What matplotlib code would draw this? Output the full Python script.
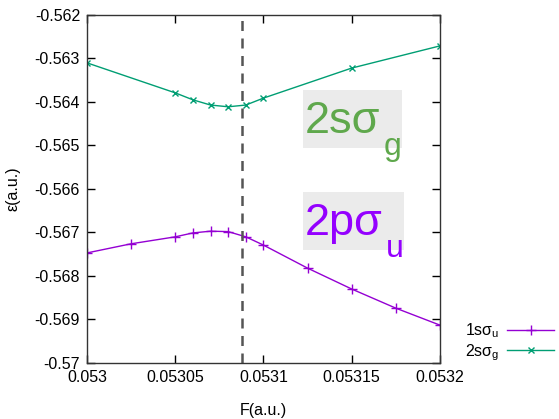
import matplotlib
matplotlib.use('Agg')
import matplotlib.pyplot as plt
from matplotlib.patches import Rectangle

# ── Data ──
F_2sg = [0.053, 0.05305, 0.05306, 0.05307, 0.05308, 0.05309, 0.0531, 0.05315, 0.0532]
E_2sg = [-0.56310, -0.56379, -0.56395, -0.56407, -0.56411, -0.56407, -0.56391, -0.56322, -0.56271]

F_1su = [0.053, 0.053025, 0.05305, 0.05306, 0.05307, 0.05308, 0.05309, 0.0531,
         0.053125, 0.05315, 0.053175, 0.0532]
E_1su = [-0.56747, -0.56726, -0.56710, -0.56701, -0.56697, -0.56698, -0.56710, -0.56729,
         -0.56782, -0.56830, -0.56874, -0.56913]

F_cross = 0.053088
xticks = [0.053, 0.05305, 0.0531, 0.05315, 0.0532]
xticklabels = ["0.053", "0.05305", "0.0531", "0.05315", "0.0532"]
yticks = [-0.570, -0.569, -0.568, -0.567, -0.566, -0.565, -0.564, -0.563, -0.562]
yticklabels = ["-0.57", "-0.569", "-0.568", "-0.567", "-0.566", "-0.565", "-0.564", "-0.563", "-0.562"]

plt.rcParams['font.family'] = ['Liberation Sans', 'DejaVu Sans']
plt.rcParams['mathtext.fontset'] = 'custom'
plt.rcParams['mathtext.rm'] = 'Liberation Sans'
plt.rcParams['mathtext.it'] = 'Liberation Sans'

fig = plt.figure(figsize=(5.59, 4.19), dpi=100)
ax = fig.add_axes([0.1556, 0.1337, 0.6315, 0.8305])

ax.plot(F_1su, E_1su, color='#9400d3', lw=1.0, marker='+', ms=7, mew=1.0,
        label='1sσ$_\\mathrm{u}$')
ax.plot(F_2sg, E_2sg, color='#009e73', lw=1.0, marker='x', ms=4.5, mew=1.0,
        label='2sσ$_\\mathrm{g}$')
ax.axvline(F_cross, color='#555555', lw=1.8, dashes=(4, 3))

ax.set_xlim(0.053, 0.0532)
ax.set_ylim(-0.570, -0.562)
ax.set_xticks(xticks)
ax.set_xticklabels(xticklabels)
ax.set_yticks(yticks)
ax.set_yticklabels(yticklabels)
ax.tick_params(direction='in', length=6, width=1, top=True, right=True,
               labelsize=11.5, pad=5, colors='black')
for s in ax.spines.values():
    s.set_linewidth(1.0)
    s.set_color('#333333')

ax.set_xlabel('F(a.u.)', fontsize=11.5, labelpad=13)
ax.set_ylabel('ε(a.u.)', fontsize=11.5, labelpad=10)

# ── state labels with grey boxes ──
for (x0, y0, x1, y1) in [(0.0531224, -0.565057, 0.0531785, -0.563724),
                         (0.0531224, -0.567402, 0.0531796, -0.566069)]:
    ax.add_patch(Rectangle((x0, y0), x1 - x0, y1 - y0, facecolor='#ebebeb',
                           edgecolor='none', zorder=1))

for main, sub, base_y, col in [('2sσ', 'g', -0.564713, '#5fa84c'),
                                ('2pσ', 'u', -0.567057, '#9400ff')]:
    t = ax.text(0.0531232, base_y, main, fontsize=32.5, color=col,
                ha='left', va='baseline', zorder=2)
    ax.annotate(sub, xy=(1, 0), xycoords=t, xytext=(2.5, -9.5),
                textcoords='offset points', fontsize=23, color=col,
                ha='left', va='baseline', zorder=2)

ax.legend(loc='center left', bbox_to_anchor=(1.03, 0.06), frameon=False,
          markerfirst=False, fontsize=11.5, handlelength=2.9,
          handletextpad=0.5, labelspacing=0.1)

fig.savefig('out.png', dpi=100)
